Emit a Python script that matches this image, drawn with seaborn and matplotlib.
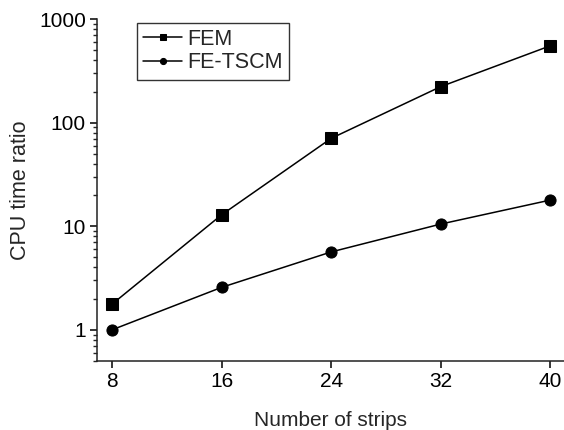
import matplotlib
matplotlib.use("Agg")
import matplotlib.pyplot as plt
import numpy as np
import pandas as pd
import seaborn as sns

strips = [8, 16, 24, 32, 40]
fem = [1.77, 12.9, 70.6, 223, 553]
fe_tscm = [1.0, 2.57, 5.65, 10.5, 17.9]

sns.set_style("ticks")
plt.rcParams['font.family'] = ['Liberation Sans', 'DejaVu Sans']
plt.rcParams['axes.linewidth'] = 1.1

df = pd.DataFrame({
    'strips': strips * 2,
    'ratio': fem + fe_tscm,
    'method': ['FEM'] * len(strips) + ['FE-TSCM'] * len(strips),
})

fig = plt.figure(figsize=(5.64, 4.30), dpi=100)
ax = fig.add_axes([0.172, 0.1605, 0.828, 0.795])

sns.lineplot(data=df, x='strips', y='ratio', style='method', markers={'FEM': 's', 'FE-TSCM': 'o'},
             dashes=False, color='black', markersize=8, linewidth=1.1,
             markeredgecolor='black', ax=ax)

ax.set_yscale('log')
ax.set_ylim(0.5, 1000)
ax.set_xlim(6.9, 41.0)
ax.set_xticks(strips)
ax.set_xticklabels([str(s) for s in strips])
ax.set_yticks([1, 10, 100, 1000])
ax.set_yticklabels(['1', '10', '100', '1000'])

ax.tick_params(axis='both', which='major', direction='out', length=5, width=1.1,
               labelsize=15, colors='black', pad=3)
ax.tick_params(axis='y', which='minor', direction='out', length=3, width=1.0, left=True)

sns.despine(ax=ax)
for s in ['left', 'bottom']:
    ax.spines[s].set_color('#222222')

ax.set_xlabel('Number of strips', fontsize=15, labelpad=14)
ax.set_ylabel('CPU time ratio', fontsize=15.5, labelpad=6)

leg = ax.legend(loc='upper left', bbox_to_anchor=(0.0857, 0.99), borderaxespad=0,
                fontsize=15.5, markerscale=0.55, handlelength=1.77, fancybox=False,
                frameon=True, edgecolor='black', borderpad=0.3, labelspacing=0.1,
                handletextpad=0.25)
leg.get_frame().set_linewidth(1.0)

fig.savefig('out.png', dpi=100)
